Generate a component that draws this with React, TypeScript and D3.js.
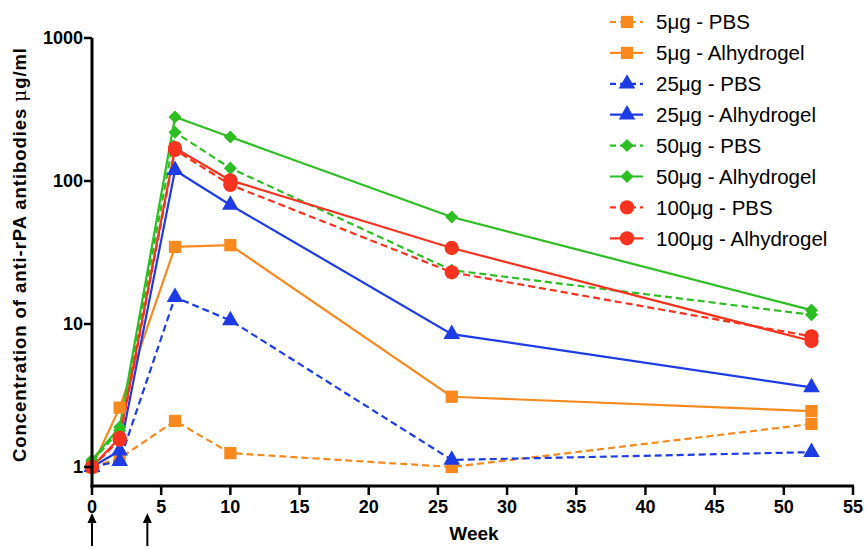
import React from "react";
import * as d3 from "d3";

const weeks = [0, 2, 6, 10, 26, 52];
const s5PBS = [1.0, 1.15, 2.1, 1.25, 1.0, 2.0];
const s5Alh = [1.0, 2.6, 34.6, 35.6, 3.1, 2.46];
const s25PBS = [1.0, 1.1, 15.4, 10.6, 1.12, 1.27];
const s25Alh = [1.0, 1.3, 119, 68, 8.5, 3.6];
const s50PBS = [1.1, 1.8, 219, 123, 23.8, 11.6];
const s50Alh = [1.12, 1.9, 280, 203, 56, 12.5];
const s100PBS = [1.0, 1.55, 165, 94, 23, 8.2];
const s100Alh = [1.0, 1.6, 170, 101, 34, 7.6];

const xTicks = [0, 5, 10, 15, 20, 25, 30, 35, 40, 45, 50, 55];
const yTicks = [1, 10, 100, 1000];
const arrowWeeks = [0, 4];

const ORANGE = "#F7891F";
const BLUE = "#1E3CE6";
const GREEN = "#2DBE23";
const RED = "#F5331E";

type Series = { name: string; values: number[]; color: string; dashed: boolean; shape: string };
const series: Series[] = [
  { name: "5μg - PBS", values: s5PBS, color: ORANGE, dashed: true, shape: "square" },
  { name: "5μg - Alhydrogel", values: s5Alh, color: ORANGE, dashed: false, shape: "square" },
  { name: "25μg - PBS", values: s25PBS, color: BLUE, dashed: true, shape: "triangle" },
  { name: "25μg - Alhydrogel", values: s25Alh, color: BLUE, dashed: false, shape: "triangle" },
  { name: "50μg - PBS", values: s50PBS, color: GREEN, dashed: true, shape: "diamond" },
  { name: "50μg - Alhydrogel", values: s50Alh, color: GREEN, dashed: false, shape: "diamond" },
  { name: "100μg - PBS", values: s100PBS, color: RED, dashed: true, shape: "circle" },
  { name: "100μg - Alhydrogel", values: s100Alh, color: RED, dashed: false, shape: "circle" },
];

const symType: Record<string, d3.SymbolType> = {
  square: d3.symbolSquare,
  triangle: d3.symbolTriangle,
  diamond: d3.symbolSquare,
  circle: d3.symbolCircle,
};
const symSize: Record<string, number> = { square: 150, triangle: 120, diamond: 85, circle: 160 };
const symRot: Record<string, number> = { square: 0, triangle: 0, diamond: 45, circle: 0 };

const W = 866, H = 549;
const x0 = 92, x1 = 853, yTop = 38, yBase = 486;

export default function App() {
  const x = d3.scaleLinear().domain([0, 55]).range([x0, x1]);
  const y = d3.scaleLog().domain([Math.pow(10, -19 / 143), 1000]).range([yBase, yTop]);
  const line = d3.line<number>().x((_, i) => x(weeks[i])).y((v) => y(v));
  const font = "'Liberation Sans', Arial, Helvetica, sans-serif";

  return (
    <svg width={W} height={H} style={{ position: "absolute", left: 0, top: 0 }}>
      <rect width={W} height={H} fill="#fff" />
      {series.map((s, k) => (
        <path key={"l" + k} d={line(s.values) || ""} fill="none" stroke={s.color} strokeWidth={2.2}
          strokeDasharray={s.dashed ? "7,4" : undefined} />
      ))}
      {series.map((s, k) =>
        s.values.map((v, i) => (
          <path key={"m" + k + "-" + i} transform={`translate(${x(weeks[i])},${y(v)}) rotate(${symRot[s.shape]})`}
            d={d3.symbol().type(symType[s.shape]).size(symSize[s.shape])() || ""} fill={s.color} />
        ))
      )}
      <line x1={x0} x2={x0} y1={yTop} y2={yBase + 1.5} stroke="#000" strokeWidth={3} />
      <line x1={x0 - 1.5} x2={x1 + 1} y1={yBase} y2={yBase} stroke="#000" strokeWidth={3} />
      {yTicks.map((t) => (
        <g key={"yt" + t}>
          <line x1={x0 - 8} x2={x0} y1={y(t)} y2={y(t)} stroke="#000" strokeWidth={2.5} />
          <text x={x0 - 9} y={y(t)} dy="0.36em" textAnchor="end" fontFamily={font} fontWeight="bold" fontSize={18}>{t}</text>
        </g>
      ))}
      {xTicks.map((t) => (
        <g key={"xt" + t}>
          <line x1={x(t)} x2={x(t)} y1={yBase} y2={yBase + 9} stroke="#000" strokeWidth={2.5} />
          <text x={x(t)} y={yBase + 27} textAnchor="middle" fontFamily={font} fontWeight="bold" fontSize={18}>{t}</text>
        </g>
      ))}
      {arrowWeeks.map((w) => (
        <g key={"a" + w}>
          <line x1={x(w)} x2={x(w)} y1={521} y2={546} stroke="#000" strokeWidth={2} />
          <path d={`M${x(w) - 4.5},${523} L${x(w)},${513} L${x(w) + 4.5},${523} Z`} fill="#000" />
        </g>
      ))}
      <text x={474} y={540} textAnchor="middle" fontFamily={font} fontWeight="bold" fontSize={19}>Week</text>
      <text transform={`translate(26,${255}) rotate(-90)`} textAnchor="middle" fontFamily={font} fontWeight="bold" fontSize={18.5}
        textLength={414} lengthAdjust="spacing">
        Concentration of anti-rPA antibodies  <tspan fontWeight="normal" fontFamily="'DejaVu Serif', serif">μ</tspan>g/ml
      </text>
      {series.map((s, k) => {
        const ly = 22 + k * 30.9;
        return (
          <g key={"lg" + k}>
            <line x1={610} x2={643} y1={ly} y2={ly} stroke={s.color} strokeWidth={2.2}
              strokeDasharray={s.dashed ? "6,4" : undefined} />
            <path transform={`translate(627,${ly}) rotate(${symRot[s.shape]})`} d={d3.symbol().type(symType[s.shape]).size(symSize[s.shape])() || ""} fill={s.color} />
            <text x={656} y={ly} dy="0.36em" fontFamily={font} fontSize={20.5}>{s.name}</text>
          </g>
        );
      })}
    </svg>
  );
}
